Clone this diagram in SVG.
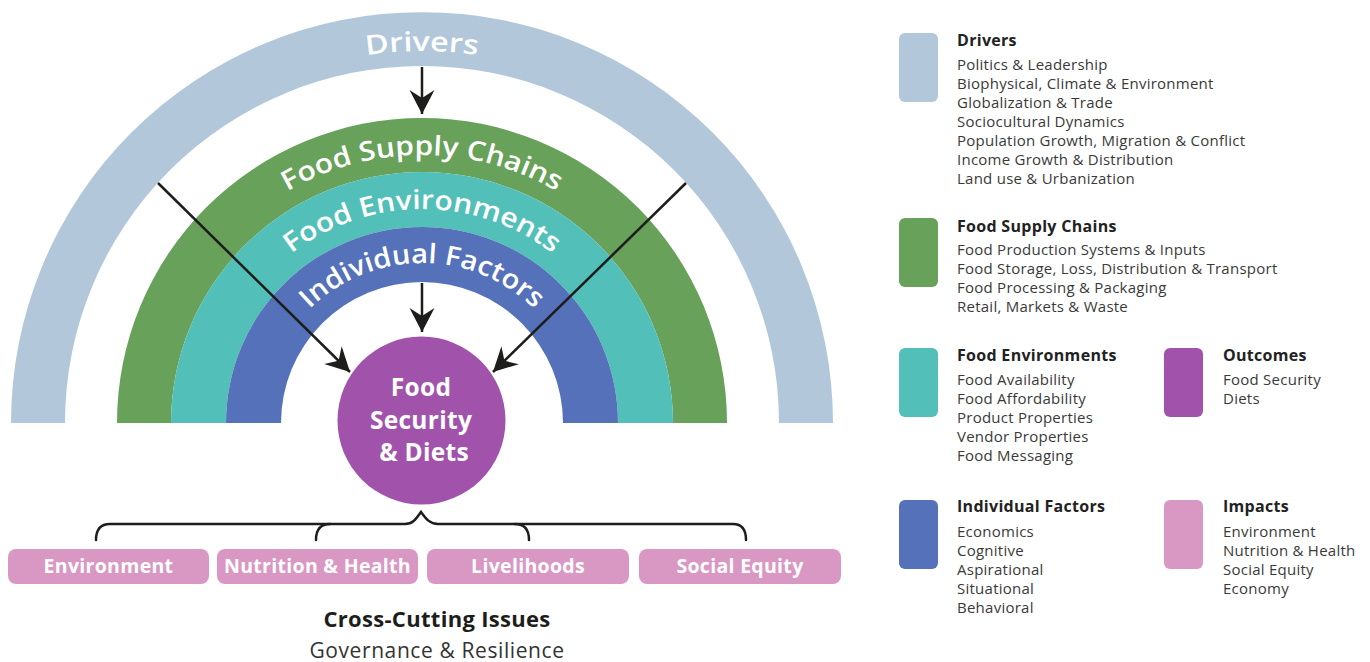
<svg xmlns="http://www.w3.org/2000/svg" width="1370" height="662" viewBox="0 0 1370 662">
<style>
  .lbl{font-family:"Open Sans","Liberation Sans",sans-serif;}
  .arc{font-size:27px;font-weight:600;fill:#ffffff;}
  .ctr{font-size:24.5px;font-weight:700;fill:#ffffff;text-anchor:middle;letter-spacing:0.3px;}
  .pill{fill:#d998c3;}
  .ptx{font-size:19.5px;font-weight:700;fill:#ffffff;text-anchor:middle;letter-spacing:0.3px;}
  .lt{font-size:16px;font-weight:700;fill:#222222;letter-spacing:0.3px;}
  .li{font-size:15px;font-weight:400;fill:#3a3a3a;letter-spacing:0.25px;}
  .conn{fill:none;stroke:#1d1d1b;stroke-width:2.5;}
  .brace{fill:none;stroke:#1d1d1b;stroke-width:2.5;stroke-linecap:round;}
</style>
<defs>
  <marker id="ah" viewBox="-26 -14 28 28" refX="0" refY="0" markerWidth="28" markerHeight="28" markerUnits="userSpaceOnUse" orient="auto">
    <path d="M0,0 L-24,-12.5 L-16,0 L-24,12.5 Z" fill="#1d1d1b"/>
  </marker>
  <path id="pDrv" d="M50,423 A372,372 0 0 1 794,423"/>
  <path id="pFsc" d="M154,423 A268,268 0 0 1 690,423"/>
  <path id="pFen" d="M208,423 A214,214 0 0 1 636,423"/>
  <path id="pInd" d="M262,423 A160,160 0 0 1 582,423"/>
</defs>

<g id="drivers">
  <path d="M11,423 A411,411 0 0 1 833,423 L779,423 A357,357 0 0 0 65,423 Z" fill="#b2c7da"/>
  <text class="lbl arc"><textPath href="#pDrv" startOffset="50%" text-anchor="middle" textLength="112" lengthAdjust="spacingAndGlyphs">Drivers</textPath></text>
</g>
<g id="food-supply-chains">
  <path d="M117,423 A305,305 0 0 1 727,423 L673,423 A251,251 0 0 0 171,423 Z" fill="#67a15a"/>
  <text class="lbl arc"><textPath href="#pFsc" startOffset="50%" text-anchor="middle" textLength="282" lengthAdjust="spacingAndGlyphs">Food Supply Chains</textPath></text>
</g>
<g id="food-environments">
  <path d="M171,423 A251,251 0 0 1 673,423 L618,423 A196,196 0 0 0 226,423 Z" fill="#53bfb9"/>
  <text class="lbl arc"><textPath href="#pFen" startOffset="50%" text-anchor="middle" textLength="281" lengthAdjust="spacingAndGlyphs">Food Environments</textPath></text>
</g>
<g id="individual-factors">
  <path d="M226,423 A196,196 0 0 1 618,423 L563,423 A141,141 0 0 0 281,423 Z" fill="#5471b9"/>
  <text class="lbl arc"><textPath href="#pInd" startOffset="50%" text-anchor="middle" textLength="249" lengthAdjust="spacingAndGlyphs">Individual Factors</textPath></text>
</g>

<g id="food-security-diets">
  <circle cx="421.5" cy="420.5" r="84" fill="#a153ab"/>
  <text class="lbl ctr" x="421" y="396">Food</text>
  <text class="lbl ctr" x="421" y="429">Security</text>
  <text class="lbl ctr" x="424" y="461">&amp; Diets</text>
</g>

<g id="connectors">
  <line class="conn" x1="422" y1="67" x2="422" y2="114" marker-end="url(#ah)"/>
  <line class="conn" x1="422" y1="283" x2="422" y2="332" marker-end="url(#ah)"/>
  <line class="conn" x1="158" y1="183" x2="350" y2="372" marker-end="url(#ah)"/>
  <line class="conn" x1="686" y1="183" x2="493" y2="372" marker-end="url(#ah)"/>
  <path class="brace" d="M96,540 C96,530 100,524 110,524 L405,524 C413,524 416,519 421,512 C426,519 430,524 438,524 L733,524 C742,524 746,530 746,540"/>
  <path class="brace" d="M316,540 C316,530 320,524 330,524"/>
  <path class="brace" d="M529,540 C529,530 525,524 515,524"/>
</g>

<g id="impact-environment">
  <rect class="pill" x="8" y="549" width="201" height="35" rx="8"/>
  <text class="lbl ptx" x="108.5" y="573">Environment</text>
</g>
<g id="impact-nutrition-health">
  <rect class="pill" x="217" y="549" width="201" height="35" rx="8"/>
  <text class="lbl ptx" x="317.5" y="573">Nutrition &amp; Health</text>
</g>
<g id="impact-livelihoods">
  <rect class="pill" x="427" y="549" width="202" height="35" rx="8"/>
  <text class="lbl ptx" x="528" y="573">Livelihoods</text>
</g>
<g id="impact-social-equity">
  <rect class="pill" x="639" y="549" width="202" height="35" rx="8"/>
  <text class="lbl ptx" x="740" y="573">Social Equity</text>
</g>

<g id="cross-cutting">
  <text class="lbl" x="437" y="627" text-anchor="middle" font-size="22" font-weight="700" letter-spacing="0.3" fill="#1d1d1b">Cross-Cutting Issues</text>
  <text class="lbl" x="437" y="658" text-anchor="middle" font-size="21" font-weight="400" letter-spacing="0.6" fill="#333333">Governance &amp; Resilience</text>
</g>

<g id="legend-drivers">
  <rect x="899" y="33" width="39" height="69" rx="6" fill="#b2c7da"/>
  <text class="lbl lt" x="957" y="46">Drivers</text>
  <text class="lbl li" x="957" y="70">Politics &amp; Leadership</text>
  <text class="lbl li" x="957" y="89">Biophysical, Climate &amp; Environment</text>
  <text class="lbl li" x="957" y="108">Globalization &amp; Trade</text>
  <text class="lbl li" x="957" y="127">Sociocultural Dynamics</text>
  <text class="lbl li" x="957" y="146">Population Growth, Migration &amp; Conflict</text>
  <text class="lbl li" x="957" y="165">Income Growth &amp; Distribution</text>
  <text class="lbl li" x="957" y="184">Land use &amp; Urbanization</text>
</g>
<g id="legend-food-supply-chains">
  <rect x="899" y="218" width="39" height="69" rx="6" fill="#67a15a"/>
  <text class="lbl lt" x="957" y="232">Food Supply Chains</text>
  <text class="lbl li" x="957" y="255">Food Production Systems &amp; Inputs</text>
  <text class="lbl li" x="957" y="274">Food Storage, Loss, Distribution &amp; Transport</text>
  <text class="lbl li" x="957" y="293">Food Processing &amp; Packaging</text>
  <text class="lbl li" x="957" y="312">Retail, Markets &amp; Waste</text>
</g>
<g id="legend-food-environments">
  <rect x="899" y="348" width="39" height="69" rx="6" fill="#53bfb9"/>
  <text class="lbl lt" x="957" y="361">Food Environments</text>
  <text class="lbl li" x="957" y="385">Food Availability</text>
  <text class="lbl li" x="957" y="404">Food Affordability</text>
  <text class="lbl li" x="957" y="423">Product Properties</text>
  <text class="lbl li" x="957" y="442">Vendor Properties</text>
  <text class="lbl li" x="957" y="461">Food Messaging</text>
</g>
<g id="legend-outcomes">
  <rect x="1164" y="348" width="39" height="69" rx="6" fill="#a153ab"/>
  <text class="lbl lt" x="1223" y="361">Outcomes</text>
  <text class="lbl li" x="1223" y="385">Food Security</text>
  <text class="lbl li" x="1223" y="404">Diets</text>
</g>
<g id="legend-individual-factors">
  <rect x="899" y="500" width="39" height="69" rx="6" fill="#5471b9"/>
  <text class="lbl lt" x="957" y="512">Individual Factors</text>
  <text class="lbl li" x="957" y="537">Economics</text>
  <text class="lbl li" x="957" y="556">Cognitive</text>
  <text class="lbl li" x="957" y="575">Aspirational</text>
  <text class="lbl li" x="957" y="594">Situational</text>
  <text class="lbl li" x="957" y="613">Behavioral</text>
</g>
<g id="legend-impacts">
  <rect x="1164" y="500" width="39" height="69" rx="6" fill="#d998c3"/>
  <text class="lbl lt" x="1223" y="512">Impacts</text>
  <text class="lbl li" x="1223" y="537">Environment</text>
  <text class="lbl li" x="1223" y="556">Nutrition &amp; Health</text>
  <text class="lbl li" x="1223" y="575">Social Equity</text>
  <text class="lbl li" x="1223" y="594">Economy</text>
</g>
</svg>
